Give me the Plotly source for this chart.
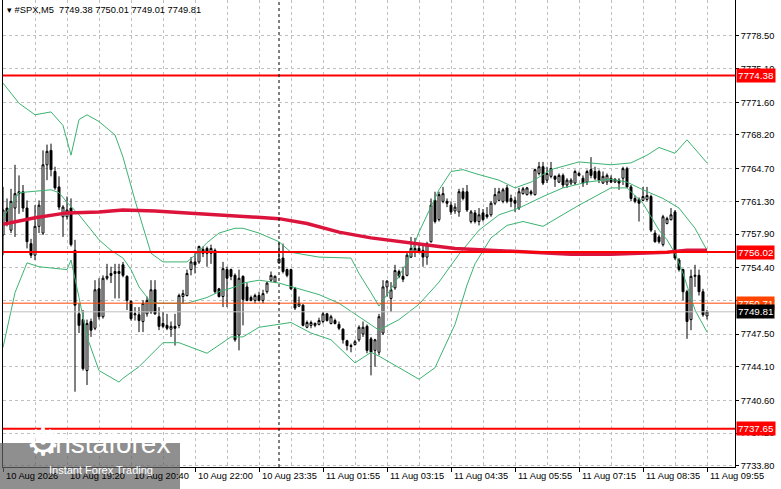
import plotly.graph_objects as go

# #SPX M5 candles (bar index 0 = 10 Aug 18:00)
opens = [
    7757.8, 7760.6, 7758.3, 7760.6, 7762.1, 7762.3, 7760.6, 7756.9, 7755.7, 7758.7,
    7758.0, 7765.1, 7766.6, 7764.4, 7762.8, 7759.7, 7759.7, 7760.6, 7756.2, 7749.6,
    7749.0, 7743.7, 7748.8, 7748.1, 7752.2, 7749.3, 7753.3, 7753.8, 7753.8, 7754.0,
    7754.7, 7753.5, 7750.9, 7749.5, 7749.5, 7748.8, 7749.6, 7749.8, 7752.1, 7749.3,
    7748.6, 7748.4, 7748.0, 7748.3, 7748.4, 7751.4, 7751.5, 7754.2, 7755.0, 7755.0,
    7756.3, 7756.4, 7755.9, 7756.2, 7752.2, 7751.4, 7754.2, 7754.2, 7753.6, 7747.4,
    7753.5, 7752.4, 7751.3, 7751.0, 7751.5, 7751.0, 7751.9, 7753.1, 7752.9, 7754.9,
    7755.4, 7754.2, 7754.2, 7752.2, 7750.4, 7750.5, 7748.2, 7748.4, 7748.4, 7748.5,
    7748.8, 7749.6, 7748.6, 7748.9, 7748.5, 7748.0, 7746.8, 7746.3, 7746.4, 7746.9,
    7747.5, 7748.3, 7747.0, 7745.8, 7745.6, 7747.6, 7752.4, 7751.2, 7752.3, 7754.0,
    7753.5, 7753.6, 7755.5, 7756.1, 7756.4, 7756.2, 7755.5, 7757.1, 7761.4, 7759.4,
    7761.3, 7761.3, 7760.9, 7760.3, 7760.2, 7762.3, 7762.3, 7759.2, 7760.1, 7759.2,
    7760.1, 7759.9, 7759.9, 7761.1, 7761.4, 7761.3, 7762.7, 7761.6, 7761.4, 7760.6,
    7762.1, 7762.0, 7762.3, 7762.0, 7764.2, 7764.9, 7763.5, 7763.9, 7763.9, 7763.3,
    7764.0, 7763.0, 7763.2, 7763.2, 7764.0, 7763.7, 7763.3, 7764.6, 7764.4, 7764.4,
    7763.2, 7763.3, 7763.7, 7763.3, 7763.5, 7763.7, 7764.7, 7762.8, 7761.6, 7761.5,
    7761.4, 7761.5, 7761.8, 7758.0, 7757.6, 7756.8, 7759.0, 7759.4, 7760.2, 7755.2,
    7754.2, 7751.9, 7749.0, 7753.5, 7753.6, 7751.9, 7749.38,
]
highs = [
    7762.8, 7761.6, 7762.6, 7765.1, 7764.0, 7763.0, 7761.4, 7757.4, 7760.9, 7761.4,
    7766.6, 7767.2, 7767.3, 7764.9, 7763.9, 7760.9, 7761.8, 7761.6, 7757.3, 7750.7,
    7750.0, 7749.0, 7749.1, 7753.1, 7753.3, 7753.6, 7754.8, 7754.5, 7754.8, 7754.8,
    7755.0, 7753.6, 7751.0, 7750.3, 7750.3, 7751.0, 7751.4, 7753.1, 7753.1, 7750.3,
    7749.8, 7749.6, 7748.8, 7749.6, 7751.7, 7752.1, 7754.2, 7755.5, 7755.9, 7756.7,
    7756.6, 7756.6, 7756.8, 7756.4, 7752.3, 7755.0, 7754.5, 7754.3, 7753.8, 7754.2,
    7753.6, 7752.8, 7751.5, 7751.7, 7751.9, 7752.1, 7752.9, 7754.0, 7753.6, 7757.0,
    7756.9, 7754.3, 7754.3, 7752.4, 7751.4, 7750.6, 7748.9, 7748.9, 7748.7, 7749.2,
    7749.8, 7749.7, 7749.5, 7749.1, 7748.8, 7748.1, 7746.9, 7746.5, 7746.9, 7748.4,
    7748.8, 7748.5, 7747.2, 7747.0, 7749.6, 7753.1, 7753.1, 7752.9, 7754.7, 7754.2,
    7754.5, 7756.1, 7757.6, 7757.5, 7756.9, 7756.8, 7757.1, 7761.6, 7762.3, 7762.3,
    7762.8, 7761.6, 7761.3, 7761.1, 7762.6, 7762.7, 7763.0, 7760.4, 7760.4, 7760.6,
    7760.5, 7760.7, 7761.3, 7762.7, 7762.7, 7762.7, 7763.0, 7762.0, 7761.8, 7762.7,
    7762.8, 7762.8, 7762.5, 7764.7, 7765.4, 7765.4, 7764.9, 7765.4, 7764.0, 7764.2,
    7764.2, 7763.7, 7763.7, 7764.6, 7764.4, 7764.0, 7764.6, 7765.9, 7764.9, 7764.6,
    7764.4, 7764.2, 7764.0, 7763.7, 7763.7, 7764.9, 7764.9, 7763.0, 7761.9, 7761.7,
    7762.8, 7762.8, 7762.0, 7758.3, 7757.8, 7759.9, 7759.7, 7760.6, 7760.4, 7755.4,
    7754.3, 7752.1, 7754.2, 7754.7, 7754.2, 7752.2, 7750.01,
]
lows = [
    7755.7, 7758.7, 7758.0, 7757.6, 7760.0, 7760.2, 7756.4, 7755.4, 7755.2, 7758.0,
    7757.8, 7763.5, 7763.9, 7762.5, 7760.4, 7757.6, 7759.4, 7756.6, 7741.5, 7747.6,
    7743.7, 7742.2, 7747.2, 7747.9, 7749.0, 7749.1, 7753.1, 7752.8, 7751.2, 7751.2,
    7753.4, 7750.0, 7748.9, 7748.9, 7747.7, 7747.7, 7749.3, 7749.6, 7749.5, 7747.9,
    7748.1, 7747.9, 7747.2, 7746.3, 7748.1, 7750.7, 7751.4, 7753.6, 7753.8, 7754.8,
    7755.5, 7754.5, 7754.8, 7751.7, 7751.3, 7750.3, 7750.3, 7753.1, 7746.7, 7745.8,
    7748.4, 7750.9, 7750.9, 7750.7, 7750.9, 7750.7, 7751.7, 7752.9, 7752.8, 7754.8,
    7753.8, 7753.4, 7752.1, 7750.0, 7750.3, 7748.3, 7748.1, 7748.1, 7748.2, 7748.4,
    7748.6, 7748.8, 7748.5, 7748.5, 7747.9, 7746.5, 7745.8, 7745.6, 7746.3, 7746.7,
    7747.2, 7745.5, 7743.2, 7744.1, 7745.3, 7747.4, 7751.4, 7749.8, 7752.1, 7753.3,
    7752.9, 7753.5, 7755.4, 7755.5, 7755.9, 7754.5, 7754.7, 7757.0, 7759.0, 7759.2,
    7761.1, 7760.7, 7759.9, 7760.0, 7759.7, 7761.4, 7760.2, 7759.0, 7759.0, 7758.8,
    7759.2, 7759.5, 7759.7, 7760.9, 7761.3, 7761.1, 7761.1, 7760.7, 7760.2, 7760.4,
    7762.0, 7761.9, 7761.9, 7761.9, 7764.0, 7763.0, 7763.2, 7763.7, 7762.8, 7763.2,
    7762.7, 7762.7, 7763.0, 7763.0, 7763.9, 7762.8, 7763.0, 7763.7, 7763.5, 7763.2,
    7763.1, 7763.0, 7763.2, 7763.2, 7762.5, 7763.0, 7762.7, 7761.3, 7761.1, 7759.2,
    7761.3, 7761.3, 7758.1, 7757.0, 7756.9, 7756.6, 7758.9, 7759.3, 7755.2, 7754.0,
    7751.0, 7747.0, 7747.9, 7752.4, 7751.5, 7749.3, 7749.01,
]
closes = [
    7760.4, 7759.2, 7761.3, 7762.1, 7762.3, 7760.6, 7757.1, 7755.7, 7758.7, 7760.9,
    7765.1, 7766.5, 7764.6, 7762.7, 7760.7, 7760.7, 7760.4, 7756.8, 7750.5, 7748.4,
    7743.9, 7748.6, 7747.9, 7752.1, 7749.3, 7753.3, 7753.5, 7753.6, 7754.0, 7753.8,
    7753.6, 7751.0, 7749.1, 7749.6, 7748.9, 7750.7, 7751.0, 7752.1, 7749.6, 7748.3,
    7748.3, 7748.1, 7748.3, 7748.1, 7751.5, 7751.7, 7753.8, 7755.0, 7754.7, 7756.6,
    7755.9, 7755.9, 7756.4, 7751.9, 7751.4, 7754.3, 7753.3, 7753.5, 7746.9, 7753.3,
    7751.1, 7751.0, 7751.0, 7751.5, 7751.0, 7751.7, 7752.8, 7753.6, 7753.5, 7755.3,
    7754.0, 7753.6, 7752.2, 7750.2, 7750.7, 7748.4, 7748.7, 7748.7, 7748.6, 7748.9,
    7749.6, 7748.9, 7749.3, 7748.6, 7748.1, 7746.9, 7746.3, 7746.2, 7746.7, 7748.2,
    7748.2, 7745.8, 7745.6, 7746.9, 7749.3, 7752.4, 7753.0, 7752.1, 7754.1, 7753.5,
    7753.2, 7755.7, 7756.4, 7756.4, 7756.1, 7755.5, 7756.9, 7760.9, 7759.2, 7762.0,
    7762.1, 7761.1, 7760.2, 7760.7, 7762.3, 7761.6, 7760.4, 7760.2, 7759.2, 7759.9,
    7759.4, 7759.7, 7761.1, 7762.0, 7762.3, 7762.5, 7761.3, 7761.3, 7761.1, 7762.3,
    7762.6, 7762.7, 7762.1, 7764.6, 7764.9, 7763.2, 7764.2, 7764.7, 7763.6, 7764.0,
    7763.0, 7763.5, 7763.5, 7764.4, 7764.2, 7763.2, 7764.4, 7764.0, 7763.7, 7763.5,
    7763.9, 7764.0, 7763.3, 7763.6, 7763.2, 7764.7, 7762.8, 7761.6, 7761.3, 7761.1,
    7761.8, 7761.9, 7758.3, 7757.1, 7757.1, 7759.7, 7759.5, 7759.9, 7755.4, 7754.2,
    7751.9, 7748.8, 7753.5, 7753.6, 7751.9, 7749.5, 7749.81,
]

# Bollinger bands, sampled at some bars
bb_up_bars = [0, 4, 8, 12, 15, 17, 19, 21, 24, 28, 30, 33, 37, 40, 46, 48, 51, 54, 58, 60,
              64, 69, 72, 79, 87, 89, 92, 94, 97, 99, 101, 104, 109, 112, 115, 118, 124, 128,
              132, 137, 144, 152, 157, 161, 164, 168, 171, 176]
bb_up = [7773.6, 7771.5, 7770.3, 7770.6, 7769.2, 7766.1, 7769.8, 7770.3, 7769.6, 7768.2,
         7765.9, 7761.4, 7755.9, 7755.0, 7755.0, 7755.7, 7757.0, 7758.0, 7758.5, 7758.5,
         7758.0, 7757.1, 7756.0, 7755.5, 7755.4, 7753.8, 7751.8, 7750.4, 7752.2, 7753.5,
         7754.9, 7758.1, 7762.5, 7764.4, 7764.6, 7764.2, 7763.5, 7762.7, 7763.3, 7764.6,
         7765.4, 7765.1, 7765.3, 7766.1, 7766.9, 7766.3, 7767.7, 7765.3]
bb_mid_bars = [0, 4, 12, 14, 16, 19, 24, 27, 30, 32, 34, 37, 39, 46, 51, 54, 58, 60, 64, 69,
               79, 84, 89, 94, 99, 104, 109, 114, 119, 124, 129, 135, 140, 146, 152, 156, 160,
               165, 169, 173, 176]
bb_mid = [7759.6, 7762.2, 7762.5, 7762.2, 7761.2, 7759.9, 7757.3, 7756.2, 7755.4, 7754.2,
          7752.4, 7750.8, 7750.7, 7750.7, 7751.3, 7751.9, 7752.4, 7752.8, 7753.1, 7752.8,
          7751.6, 7750.7, 7749.3, 7747.9, 7749.0, 7750.6, 7752.9, 7755.8, 7758.3, 7759.9,
          7760.6, 7761.8, 7762.7, 7763.3, 7763.6, 7763.3, 7762.5, 7761.6, 7760.6, 7758.5,
          7756.2]
bb_low_bars = [0, 3, 6, 9, 16, 17, 19, 21, 24, 29, 30, 34, 40, 44, 51, 57, 60, 64, 72, 77,
               82, 88, 92, 94, 99, 104, 108, 111, 113, 116, 118, 122, 126, 130, 135, 144, 152,
               156, 160, 164, 166, 168, 170, 173, 176]
bb_low = [7746.1, 7751.8, 7754.9, 7754.5, 7754.2, 7755.2, 7751.3, 7747.2, 7743.7, 7742.5,
          7742.9, 7744.1, 7746.6, 7746.6, 7745.5, 7747.2, 7747.2, 7748.2, 7748.7, 7747.6,
          7746.9, 7744.5, 7745.6, 7745.2, 7744.0, 7742.8, 7744.0, 7746.6, 7748.5, 7752.6,
          7754.8, 7757.5, 7758.8, 7759.2, 7758.7, 7760.9, 7762.7, 7762.7, 7761.1, 7758.3,
          7757.3, 7755.9, 7753.8, 7750.0, 7747.7]

# slow moving average (thick crimson line)
ma_bars = [0, 8, 16, 24, 30, 38, 46, 54, 60, 69, 76, 84, 92, 99, 105, 113, 122, 132, 142,
           152, 160, 166, 171, 176]
ma_vals = [7758.9, 7759.6, 7760.1, 7760.2, 7760.4, 7760.3, 7760.1, 7759.9, 7759.7, 7759.5,
           7759.0, 7758.1, 7757.5, 7757.1, 7756.8, 7756.4, 7756.2, 7756.0, 7755.8, 7755.8,
           7755.9, 7756.0, 7756.2, 7756.2]

# horizontal levels
red_levels = [7774.38, 7756.02, 7737.65]
orange_level = 7750.71
bid_price = 7749.81
last_bar = [7749.38, 7750.01, 7749.01, 7749.81]

y_ticks = [7733.80, 7737.20, 7740.60, 7744.10, 7747.50, 7751.00, 7754.40,
           7757.90, 7761.30, 7764.70, 7768.20, 7771.60, 7775.10, 7778.50]
time_labels = ["10 Aug 2026", "10 Aug 19:20", "10 Aug 20:40", "10 Aug 22:00",
               "10 Aug 23:35", "11 Aug 01:55", "11 Aug 03:15", "11 Aug 04:35",
               "11 Aug 05:55", "11 Aug 07:15", "11 Aug 08:35", "11 Aug 09:55"]
day_start_bar = 69

FONT = "Liberation Sans, Arial, sans-serif"
FS = 9.3
GRID = "#c0c0c0"
GREEN = "#3cb371"

bars = list(range(len(closes)))
tick_bars = bars[::16]

fig = go.Figure()
fig.add_trace(go.Candlestick(
    x=bars, open=opens, high=highs, low=lows, close=closes,
    increasing=dict(line=dict(color="black", width=1), fillcolor="white"),
    decreasing=dict(line=dict(color="black", width=1), fillcolor="black"),
    whiskerwidth=0, hoverinfo="skip",
))
for bx, by in [(bb_up_bars, bb_up), (bb_mid_bars, bb_mid), (bb_low_bars, bb_low)]:
    fig.add_trace(go.Scatter(x=bx, y=by, mode="lines",
                             line=dict(color=GREEN, width=1), hoverinfo="skip"))
fig.add_trace(go.Scatter(x=ma_bars, y=ma_vals, mode="lines",
                         line=dict(color="#dc143c", width=3.5), hoverinfo="skip"))

# level lines
for lv in red_levels:
    fig.add_shape(type="line", xref="paper", x0=0, x1=1, y0=lv, y1=lv,
                  line=dict(color="#ff0000", width=2), layer="above")
fig.add_shape(type="line", xref="paper", x0=0, x1=1, y0=orange_level, y1=orange_level,
              line=dict(color="#ff4500", width=1), layer="above")
fig.add_shape(type="line", xref="paper", x0=0, x1=1, y0=bid_price, y1=bid_price,
              line=dict(color="#c0c0c0", width=1), layer="above")
# period separator
fig.add_shape(type="line", x0=day_start_bar, x1=day_start_bar, yref="paper", y0=0, y1=1,
              line=dict(color="black", width=1, dash="3px,3px"), layer="above")

# price tags on the right
tags = [(lv, "#ff0000") for lv in red_levels] + [(orange_level, "#ff4500"), (bid_price, "#000000")]
for price, col in tags:
    fig.add_annotation(x=1, xref="paper", xanchor="left", xshift=1, y=price, yref="y",
                       text=f"{price:.2f}", showarrow=False, bgcolor=col, borderpad=1,
                       font=dict(family=FONT, size=FS + 0.5, color="white"))

# time labels, left aligned on their ticks
for b, lab in zip(tick_bars, time_labels):
    fig.add_annotation(x=b, xref="x", xanchor="left", xshift=1, y=0, yref="paper",
                       yanchor="top", yshift=-2, text=lab, showarrow=False,
                       font=dict(family=FONT, size=FS, color="black"))

# header
fig.add_annotation(x=0, xref="paper", xanchor="left", xshift=2, y=1, yref="paper",
                   yanchor="top", yshift=-3, showarrow=False,
                   text="▾ " + "#SPX,M5  " + " ".join(f"{v:.2f}" for v in last_bar),
                   font=dict(family=FONT, size=FS, color="black"))

# watermark
fig.add_shape(type="rect", xref="paper", yref="paper", x0=-0.005, x1=0.2418,
              y0=-0.05, y1=0.0514, line=dict(width=0),
              fillcolor="rgba(100,100,100,0.72)", layer="above")
fig.add_annotation(x=0.029, xref="paper", y=0.002, yref="paper", text="⚙", showarrow=False,
                   font=dict(family="DejaVu Sans", size=38, color="white"))
fig.add_annotation(x=0.06, xref="paper", xanchor="left", y=0.012, yref="paper",
                   text="instaforex", showarrow=False,
                   font=dict(family="Liberation Sans", size=28, color="white"))
fig.add_annotation(x=0.06, xref="paper", xanchor="left", y=-0.024, yref="paper",
                   text="Instant Forex Trading", showarrow=False,
                   font=dict(family="Liberation Sans", size=11, color="white"))

fig.update_layout(
    width=781, height=489,
    margin=dict(l=3, r=46, t=0, b=22),
    paper_bgcolor="white", plot_bgcolor="white",
    showlegend=False, hovermode=False,
    font=dict(family=FONT, size=FS, color="black"),
    xaxis=dict(
        range=[0, 183], rangeslider=dict(visible=False),
        showline=True, linecolor="black", linewidth=1, mirror=False,
        tickmode="array", tickvals=tick_bars, showticklabels=False,
        ticks="outside", ticklen=4, tickcolor="black",
        showgrid=True, gridcolor=GRID, griddash="3px,3px", zeroline=False,
        minor=dict(tickmode="linear", tick0=0, dtick=8, showgrid=True,
                   gridcolor=GRID, griddash="3px,3px", ticks=""),
    ),
    yaxis=dict(
        side="right", range=[7733.67, 7782.24],
        tickmode="array", tickvals=y_ticks, ticktext=[f"{v:.2f}" for v in y_ticks],
        ticks="outside", ticklen=3, tickcolor="black",
        showline=True, linecolor="black", linewidth=1, mirror=True,
        showgrid=True, gridcolor=GRID, griddash="3px,3px", zeroline=False,
        tickfont=dict(family=FONT, size=FS, color="black"),
    ),
)

# the page body has a default 8px margin; drop it so the chart sits at 0,0
fig.write_html("out.html", config={"displayModeBar": False},
               post_script="document.body.style.margin='0';")
